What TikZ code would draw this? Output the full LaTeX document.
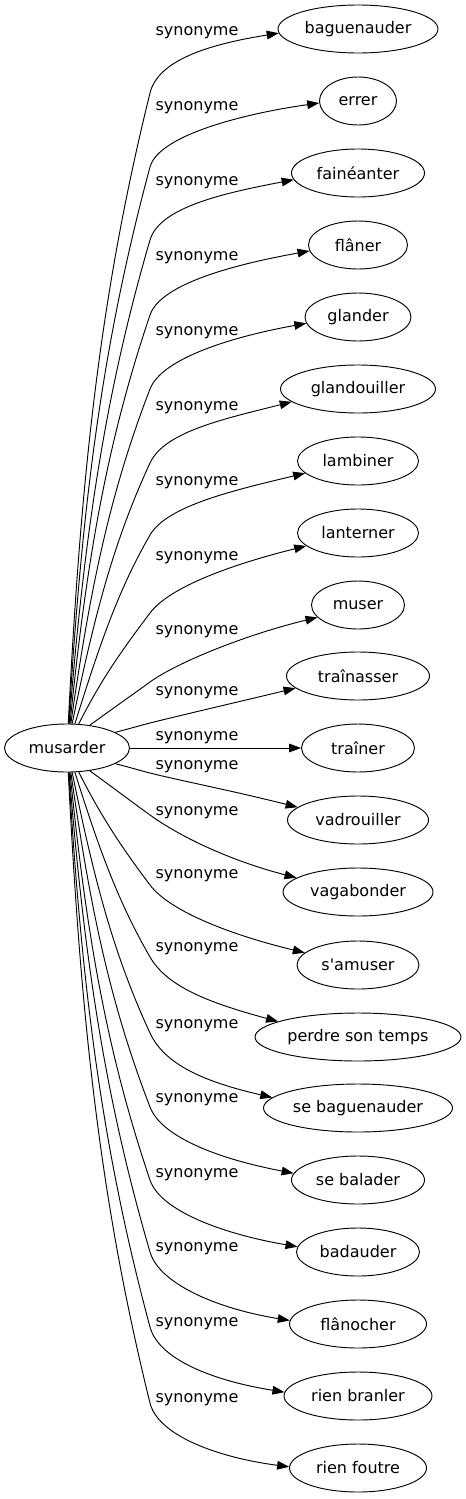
\documentclass[tikz,border=0pt]{standalone}
\usepackage{fontspec}
\setmainfont{DejaVu Sans}
\usetikzlibrary{shapes.geometric,arrows.meta}
\tikzset{
  word/.style={ellipse, draw, line width=0.7pt, inner sep=0pt, minimum height=36pt, font=\fontsize{12}{14}\selectfont},
  lbl/.style={inner sep=0pt, font=\fontsize{12}{14}\selectfont},
  syn/.style={-{Triangle[length=9pt,width=6.5pt]}, line width=0.7pt}
}
\begin{document}
\begin{tikzpicture}[x=0.75pt,y=-0.75pt]
\useasboundingbox (0,0) rectangle (466,1499);
\node[word, minimum width=93.75pt] (m) at (67,748) {\makebox[0pt]{musarder}};
% synonyms, one column
\foreach \id/\word/\ty/\ew in {bag/baguenauder/29/160, err/errer/101/77, fai/fainéanter/173/133,
  fla/flâner/245/99, gla/glander/317/106, gld/glandouiller/389/155, lam/lambiner/461/121,
  lan/lanterner/533/121, mus/muser/605/93, trs/traînasser/676/143, tra/traîner/748/113,
  vad/vadrouiller/820/141, vag/vagabonder/892/150, sam/s\textquotesingle{}amuser/965/122,
  per/perdre son temps/1037/206, sbg/se baguenauder/1108/189, sbl/se balader/1180/133,
  bad/badauder/1252/123, flo/flânocher/1324/137, rib/rien branler/1396/148, rif/rien foutre/1468/137}
  \node[word, minimum width=\ew*0.75pt] (\id) at (358,\ty) {\makebox[0pt]{\word}};
% straight edge
\draw[syn] (m) -- (tra);
\node[lbl] (ltra) at (197,738) {synonyme};
% curved edges: rise from musarder, bend at x=150, run into the node
\foreach \id/\ty/\ly/\ew/\sa/\sx/\kx/\kc/\dy in {
  bag/29/33/160/87/0.05/0.24/64/4, err/101/108/77/86/0.06/0.26/66/2,
  fai/173/183/133/85/0.08/0.28/67/7, fla/245/258/99/83/0.1/0.32/70/6,
  gla/317/333/106/81/0.14/0.36/72/6, gld/389/408/155/78/0.2/0.42/74/13,
  lam/461/483/121/72/0.3/0.5/74/12, lan/533/558/121/64/0.45/0.6/80/13,
  mus/605/632/93/45/0.81/0.81/77/12, trs/676/693/143/18/0.97/0.97/47/12,
  vad/820/767/141/18/0.97/0.97/47/13, vag/892/813/150/45/0.81/0.81/77/14,
  sam/965/876/122/64/0.45/0.6/80/12, per/1037/949/206/72/0.3/0.5/80/15,
  sbg/1108/1026/189/78/0.2/0.42/75/11, sbl/1180/1100/133/81/0.14/0.36/73/7,
  bad/1252/1175/123/83/0.1/0.32/72/5, flo/1324/1249/137/85/0.08/0.28/72/4,
  rib/1396/1324/148/86/0.06/0.26/69/4, rif/1468/1400/137/87/0.05/0.24/65/1}{
  \pgfmathsetmacro\sgn{\ty>748 ? 1 : -1}
  \pgfmathtruncatemacro\san{-\sgn*\sa}
  \pgfmathsetmacro\rad{1488/sqrt((24*cos(\sa))^2+(62*sin(\sa))^2)}
  \pgfmathsetmacro\sxp{67+\rad*cos(\sa)}
  \pgfmathsetmacro\syp{748+\sgn*\rad*sin(\sa)}
  \pgfmathsetmacro\kny{\ty-\sgn*\kc}
  \pgfmathsetmacro\dist{veclen(150-\sxp,\kny-\syp)}
  \pgfmathsetmacro\syd{\sgn*sqrt(1-\sx*\sx)}
  \pgfmathsetmacro\kyd{\sgn*sqrt(1-\kx*\kx)}
  \pgfmathsetmacro\pax{0.4*\dist*\sx}
  \pgfmathsetmacro\pay{0.4*\dist*\syd}
  \pgfmathsetmacro\pbx{150-0.32*\dist*\kx}
  \pgfmathsetmacro\pby{\kny-0.32*\dist*\kyd}
  \pgfmathsetmacro\qax{34*\kx}
  \pgfmathsetmacro\qay{34*\kyd}
  \pgfmathsetmacro\qby{-\sgn*(0.12+0.01*\dy)*70}
  \pgfmathtruncatemacro\eang{round(180-\sgn*atan(\dy/(\ew/2*cos(asin(\dy/24)))))}
  \draw[syn] (m.\san) .. controls +(\pax,\pay) and (\pbx,\pby) .. (150,\kny)
    .. controls +(\qax,\qay) and +(-70,\qby) .. (\id.\eang);
  \node[lbl] (l\id) at (197,\ly) {synonyme};
}
\end{tikzpicture}
\end{document}
